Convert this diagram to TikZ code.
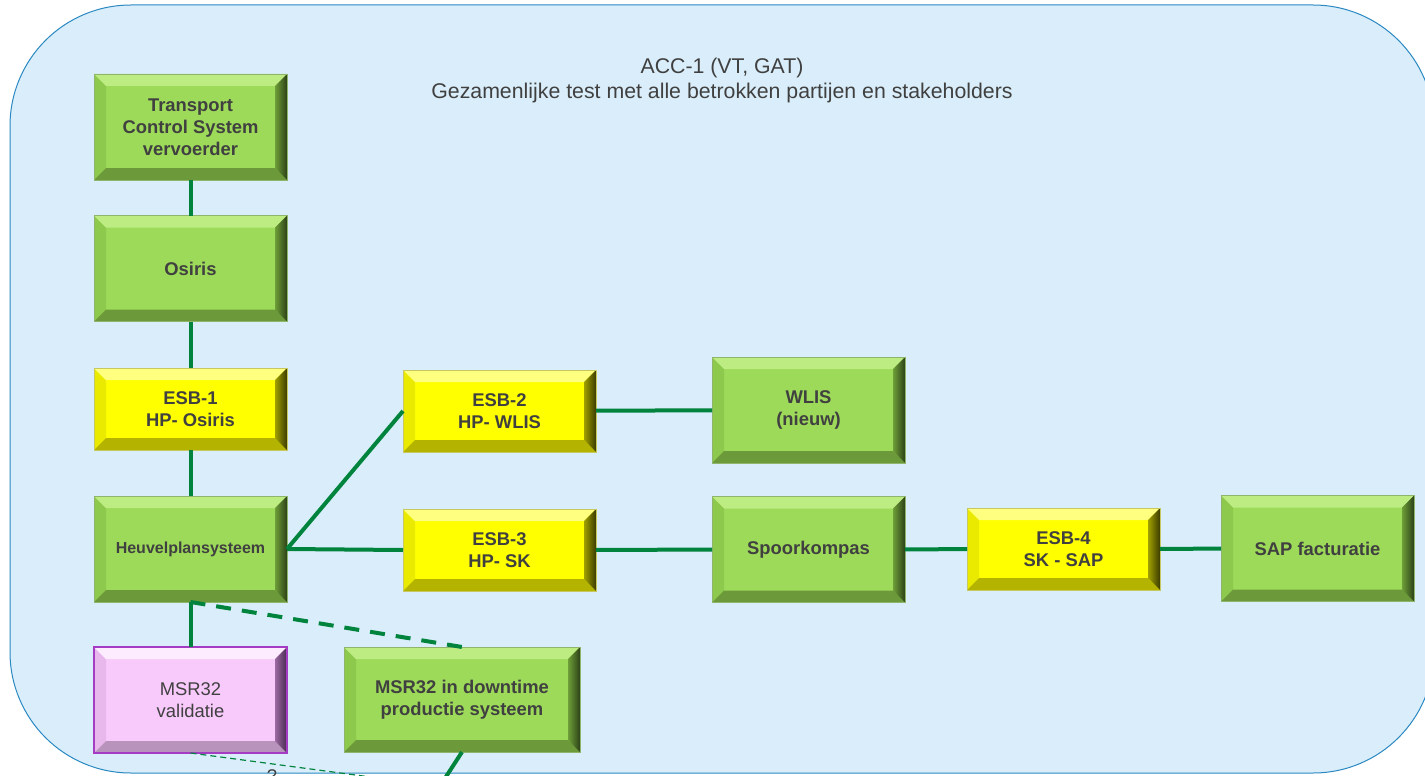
\documentclass[tikz,border=0pt]{standalone}
\usepackage{fontspec}
\setmainfont{Liberation Sans}
\usetikzlibrary{calc}

\definecolor{panelfill}{HTML}{D9EEFA}
\definecolor{panelline}{HTML}{2A88C2}
\definecolor{linkgreen}{HTML}{00843D}
\definecolor{txt}{HTML}{404040}
% green boxes
\definecolor{gFace}{HTML}{9DDA5A}
\definecolor{gTop}{HTML}{BDEC82}
\definecolor{gLeft}{HTML}{8CC94C}
\definecolor{gBot}{HTML}{6C9A3A}
\definecolor{gRa}{HTML}{6E9E38}
\definecolor{gRb}{HTML}{2C4218}
\definecolor{gEdge}{HTML}{8FB56C}
% yellow boxes
\definecolor{yFace}{HTML}{FFFF00}
\definecolor{yTop}{HTML}{FFFF80}
\definecolor{yLeft}{HTML}{EAEA00}
\definecolor{yBot}{HTML}{B4B400}
\definecolor{yRa}{HTML}{A0A000}
\definecolor{yRb}{HTML}{3C3C00}
\definecolor{yEdge}{HTML}{C8C860}
% pink box
\definecolor{pFace}{HTML}{F8CAFB}
\definecolor{pTop}{HTML}{FDEBFE}
\definecolor{pLeft}{HTML}{E8B8EC}
\definecolor{pBot}{HTML}{B893BC}
\definecolor{pRa}{HTML}{9A6AA0}
\definecolor{pRb}{HTML}{4A2A52}
\definecolor{pEdge}{HTML}{A43CC4}

\def\bw{12pt}

\tikzset{
  bevel/.style n args={7}{
    fill=#1, draw=#7, line width=0.7pt,
    path picture={
      \coordinate (pA) at (path picture bounding box.south west);
      \coordinate (pC) at (path picture bounding box.north east);
      \coordinate (pB) at (pA -| pC);
      \coordinate (pD) at (pA |- pC);
      \fill[#3] (pA) -- (pD) -- ($(pD)+(\bw,-\bw)$) -- ($(pA)+(\bw,\bw)$) -- cycle;
      \fill[#2] (pD) -- (pC) -- ($(pC)+(-\bw,-\bw)$) -- ($(pD)+(\bw,-\bw)$) -- cycle;
      \fill[#4] (pA) -- (pB) -- ($(pB)+(-\bw,\bw)$) -- ($(pA)+(\bw,\bw)$) -- cycle;
      \shade[left color=#5, right color=#6]
        (pB) -- (pC) -- ($(pC)+(-\bw,-\bw)$) -- ($(pB)+(-\bw,\bw)$) -- cycle;
    }
  },
  box/.style={rectangle, inner sep=2pt, outer sep=0pt, align=center,
    text=txt, font=\fontsize{18.4}{22}\selectfont\bfseries,
    minimum width=193pt},
  tall/.style={minimum height=106pt},
  short/.style={minimum height=82pt},
  gbox/.style={box, tall, bevel={gFace}{gTop}{gLeft}{gBot}{gRa}{gRb}{gEdge}},
  ybox/.style={box, short, bevel={yFace}{yTop}{yLeft}{yBot}{yRa}{yRb}{yEdge}},
  pbox/.style={box, tall, font=\fontsize{18.4}{22}\selectfont,
    bevel={pFace}{pTop}{pLeft}{pBot}{pRa}{pRb}{pEdge}, line width=1.4pt},
  wire/.style={draw=linkgreen, line width=4pt},
  dashwire/.style={wire, dash pattern=on 15pt off 11pt},
  thinwire/.style={draw=linkgreen, line width=1.2pt, dash pattern=on 6pt off 4pt},
  panel/.style={fill=panelfill, draw=panelline, line width=1pt, rounded corners=121pt},
  heading/.style={align=center, text=txt, font=\fontsize{21.3}{25}\selectfont}
}

\begin{document}
\begin{tikzpicture}[x=1pt, y=-1pt]
  \useasboundingbox (0,0) rectangle (1425,776);
  \clip (0,0) rectangle (1425,776);

  % background panel
  \path[panel] (10,5) rectangle (1434,773);

  \node[heading] (title) at (722,80) {ACC-1 (VT, GAT)\\Gezamenlijke test met alle betrokken partijen en stakeholders};

  % left column
  \node[gbox] (tcs) at (190.5,127) {Transport\\Control System\\vervoerder};
  \node[gbox] (osiris) at (190.5,268.5) {Osiris};
  \node[ybox] (esb1) at (190.5,409) {ESB-1\\HP- Osiris};
  \node[gbox, font=\fontsize{16}{19}\selectfont\bfseries] (heuvel) at (190.5,549) {Heuvelplansysteem};
  \node[pbox] (msrval) at (190.5,700) {MSR32\\validatie};

  % upper branch
  \node[ybox] (esb2) at (499.5,411) {ESB-2\\HP- WLIS};
  \node[gbox] (wlis) at (808.5,410) {WLIS\\(nieuw)};

  % main branch
  \node[ybox] (esb3) at (499.5,550) {ESB-3\\HP- SK};
  \node[gbox] (spoor) at (808.5,549.5) {Spoorkompas};
  \node[ybox] (esb4) at (1063.5,549) {ESB-4\\SK - SAP};
  \node[gbox] (sap) at (1317.5,548.5) {SAP facturatie};

  % downtime system
  \node[gbox, minimum width=236pt, minimum height=105pt] (msrdown) at (462,699.5) {MSR32 in downtime\\productie systeem};

  % connections
  \draw[wire] (tcs) -- (osiris);
  \draw[wire] (osiris) -- (esb1);
  \draw[wire] (esb1) -- (heuvel);
  \draw[wire] (heuvel) -- (msrval);
  \draw[wire] (heuvel.east) -- (esb2.west);
  \draw[wire] (heuvel.east) -- (esb3.west);
  \draw[wire] (esb2) -- (wlis);
  \draw[wire] (esb3) -- (spoor);
  \draw[wire] (spoor) -- (esb4);
  \draw[wire] (esb4) -- (sap);
  \draw[dashwire] (heuvel.south) -- (msrdown.north);

  % links leaving the bottom edge
  \coordinate (valout) at (435,785.6);
  \coordinate (downout) at (440,786);
  \draw[thinwire] (msrval.south) -- (valout);
  \draw[wire] (msrdown.south) -- (downout);
  \node[anchor=base, text=txt, font=\fontsize{18.4}{22}\selectfont] (qmark) at (272,782) {?};
\end{tikzpicture}
\end{document}
